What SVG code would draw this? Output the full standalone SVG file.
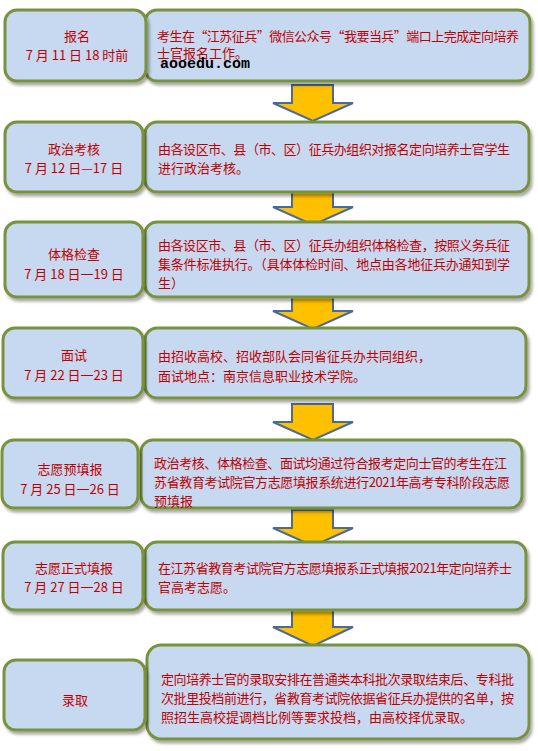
<svg xmlns="http://www.w3.org/2000/svg" width="538" height="751" viewBox="0 0 538 751">
<defs>
<filter id="sh" x="-5%" y="-10%" width="115%" height="130%">
<feDropShadow dx="2" dy="3" stdDeviation="1.6" flood-color="#000" flood-opacity="0.35"/>
</filter>
<style>
.box{fill:#C6D9F0;stroke:#77933C;stroke-width:3;filter:url(#sh)}
.arr{fill:#FFC000;stroke:#4A6A9A;stroke-width:2;stroke-linejoin:miter}
text{font-family:"Noto Sans CJK SC","Noto Sans",sans-serif;font-size:13px;fill:#C00000}
.c{text-anchor:middle}
.wm{font-family:"Liberation Mono",monospace;font-size:15px;font-weight:bold;fill:#000}
</style>
</defs>
<g id="connectors">
<polygon class="arr" points="292,85 333,85 333,103 353,103 313,121 273,103 292,103"/>
<polygon class="arr" points="292,189 333,189 333,207 353,207 313,225 273,207 292,207"/>
<polygon class="arr" points="292,293 333,293 333,311 353,311 313,329 273,311 292,311"/>
<polygon class="arr" points="292,404 333,404 333,422 353,422 313,440 273,422 292,422"/>
<polygon class="arr" points="292,510 333,510 333,528 353,528 313,546 273,528 292,528"/>
<polygon class="arr" points="292,610 333,610 333,627 353,627 313,646 273,627 292,627"/>
</g>
<g id="n1">
<rect class="box" x="145" y="10" width="385" height="71" rx="12"/>
<rect class="box" x="5" y="10" width="141" height="71" rx="12"/>
<text class="c" x="77" y="41">报名</text>
<text class="c" x="77" y="60">7 月 11 日 18 时前</text>
<text x="157" y="41" textLength="362" lengthAdjust="spacing">考生在“江苏征兵”微信公众号“我要当兵”端口上完成定向培养</text>
<text x="157" y="58">士官报名工作。</text>
<text class="wm" x="160" y="68">aooedu.com</text>
</g>
<g id="n2">
<rect class="box" x="145" y="122" width="384" height="70" rx="12"/>
<rect class="box" x="5" y="122" width="138" height="70" rx="12"/>
<text class="c" x="74" y="154">政治考核</text>
<text class="c" x="74" y="173">7 月 12 日—17 日</text>
<text x="158" y="154" textLength="352" lengthAdjust="spacing">由各设区市、县（市、区）征兵办组织对报名定向培养士官学生</text>
<text x="158" y="173">进行政治考核。</text>
</g>
<g id="n3">
<rect class="box" x="145" y="222" width="384" height="75" rx="12"/>
<rect class="box" x="5" y="222" width="138" height="75" rx="12"/>
<text class="c" x="74" y="259">体格检查</text>
<text class="c" x="74" y="279">7 月 18 日一19 日</text>
<text x="158" y="250" textLength="352" lengthAdjust="spacing">由各设区市、县（市、区）征兵办组织体格检查，按照义务兵征</text>
<text x="158" y="269" textLength="352" lengthAdjust="spacing">集条件标准执行。（具体体检时间、地点由各地征兵办通知到学</text>
<text x="158" y="288">生）</text>
</g>
<g id="n4">
<rect class="box" x="145" y="328" width="381" height="70" rx="12"/>
<rect class="box" x="3" y="328" width="140" height="70" rx="12"/>
<text class="c" x="74" y="360">面试</text>
<text class="c" x="74" y="380">7 月 22 日一23 日</text>
<text x="158" y="361">由招收高校、招收部队会同省征兵办共同组织，</text>
<text x="158" y="381">面试地点：南京信息职业技术学院。</text>
</g>
<g id="n5">
<rect class="box" x="141" y="440" width="381" height="68" rx="12"/>
<rect class="box" x="2" y="440" width="136" height="68" rx="12"/>
<text class="c" x="70" y="474">志愿预填报</text>
<text class="c" x="70" y="494">7 月 25 日一26 日</text>
<text x="154" y="468" textLength="353" lengthAdjust="spacing">政治考核、体格检查、面试均通过符合报考定向士官的考生在江</text>
<text x="154" y="487" textLength="356" lengthAdjust="spacing">苏省教育考试院官方志愿填报系统进行2021年高考专科阶段志愿</text>
<text x="154" y="506">预填报</text>
</g>
<g id="n6">
<rect class="box" x="145" y="542" width="381" height="68" rx="12"/>
<rect class="box" x="3" y="542" width="140" height="68" rx="12"/>
<text class="c" x="74" y="573">志愿正式填报</text>
<text class="c" x="74" y="592">7 月 27 日一28 日</text>
<text x="158" y="573" textLength="354" lengthAdjust="spacing">在江苏省教育考试院官方志愿填报系正式填报2021年定向培养士</text>
<text x="158" y="592">官高考志愿。</text>
</g>
<g id="n7">
<rect class="box" x="147" y="645" width="382" height="94" rx="14"/>
<rect class="box" x="4" y="660" width="141" height="70" rx="12"/>
<text class="c" x="75" y="705">录取</text>
<text x="161" y="684" textLength="353" lengthAdjust="spacing">定向培养士官的录取安排在普通类本科批次录取结束后、专科批</text>
<text x="161" y="703" textLength="353" lengthAdjust="spacing">次批里投档前进行，省教育考试院依据省征兵办提供的名单，按</text>
<text x="161" y="722">照招生高校提调档比例等要求投档，由高校择优录取。</text>
</g>
</svg>
